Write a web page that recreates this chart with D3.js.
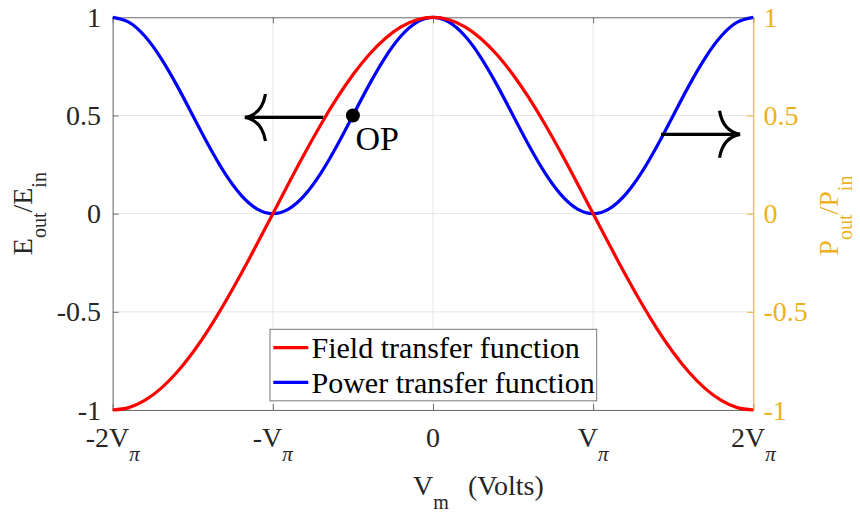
<!DOCTYPE html>
<html>
<head>
<meta charset="utf-8">
<script src="https://cdn.jsdelivr.net/npm/d3@7"></script>
<style>
  html, body { margin: 0; padding: 0; background: #fff; }
  svg { display: block; }
  text { font-family: "Liberation Serif", "Times New Roman", serif; }
</style>
</head>
<body>
<svg id="chart" width="860" height="512"></svg>
<script>
// ---- data (x in units of V_pi) ----
const vm = [-2.0,-1.9,-1.8,-1.7,-1.6,-1.5,-1.4,-1.3,-1.2,-1.1,-1.0,-0.9,-0.8,-0.7,-0.6,-0.5,-0.4,-0.3,-0.2,-0.1,
            0.0,0.1,0.2,0.3,0.4,0.5,0.6,0.7,0.8,0.9,1.0,1.1,1.2,1.3,1.4,1.5,1.6,1.7,1.8,1.9,2.0];
const fieldTF = [-1,-0.9877,-0.9511,-0.8910,-0.8090,-0.7071,-0.5878,-0.4540,-0.3090,-0.1564,0,
                 0.1564,0.3090,0.4540,0.5878,0.7071,0.8090,0.8910,0.9511,0.9877,1,
                 0.9877,0.9511,0.8910,0.8090,0.7071,0.5878,0.4540,0.3090,0.1564,0,
                 -0.1564,-0.3090,-0.4540,-0.5878,-0.7071,-0.8090,-0.8910,-0.9511,-0.9877,-1];
const powerTF = [1,0.9755,0.9045,0.7939,0.6545,0.5,0.3455,0.2061,0.0955,0.0245,0,
                 0.0245,0.0955,0.2061,0.3455,0.5,0.6545,0.7939,0.9045,0.9755,1,
                 0.9755,0.9045,0.7939,0.6545,0.5,0.3455,0.2061,0.0955,0.0245,0,
                 0.0245,0.0955,0.2061,0.3455,0.5,0.6545,0.7939,0.9045,0.9755,1];
const xTicks = [-2,-1,0,1,2];
const xTickMain = ["-2V","-V","0","V","2V"];
const xTickSub  = ["\u03c0","\u03c0","","\u03c0","\u03c0"];
const yTicks = [-1,-0.5,0,0.5,1];
const yTickLabels = ["-1","-0.5","0","0.5","1"];
const legendLabels = ["Field transfer function","Power transfer function"];
const opPoint = {x: -0.5, y: 0.5, label: "OP"};
const leftArrow = {x1: -0.685, x2: -1.174, y: 0.49};
const rightArrow = {x1: 1.424, x2: 1.917, y: 0.404};

// ---- layout ----
const L = 112.7, R = 753.3, T = 17.3, B = 410;
const RED = "#ff0000", BLUE = "#0000ff", ORANGE = "#EDB120", TXT = "#262626", AX = "#707070";
const svg = d3.select("#chart");
const x = d3.scaleLinear().domain([-2,2]).range([L,R]);
const y = d3.scaleLinear().domain([-1,1]).range([B,T]);
const yR = d3.scaleLinear().domain([-1,1]).range([B,T]);

// grid
const grid = svg.append("g");
grid.selectAll("line.gx").data(xTicks).join("line")
  .attr("x1", d => x(d)).attr("x2", d => x(d)).attr("y1", T).attr("y2", B)
  .attr("stroke", "#e6e6e6").attr("stroke-width", 1);
grid.selectAll("line.gy").data(yTicks).join("line")
  .attr("x1", L).attr("x2", R).attr("y1", d => y(d)).attr("y2", d => y(d))
  .attr("stroke", "#e6e6e6").attr("stroke-width", 1);

// axes
function styleAxis(g, color) {
  g.select(".domain").attr("stroke", color).attr("stroke-width", 1);
  g.selectAll(".tick line").attr("stroke", color).attr("stroke-width", 1);
}
const gxB = svg.append("g").attr("transform", `translate(0,${B})`)
  .call(d3.axisBottom(x).tickValues(xTicks).tickSizeInner(-6).tickSizeOuter(0).tickFormat(""));
styleAxis(gxB, AX);
const gxT = svg.append("g").attr("transform", `translate(0,${T})`)
  .call(d3.axisTop(x).tickValues(xTicks).tickSizeInner(-6).tickSizeOuter(0).tickFormat(""));
styleAxis(gxT, AX);
const gyL = svg.append("g").attr("transform", `translate(${L},0)`)
  .call(d3.axisLeft(y).tickValues(yTicks).tickSizeInner(-6).tickSizeOuter(0).tickFormat(""));
styleAxis(gyL, AX);
const gyR = svg.append("g").attr("transform", `translate(${R},0)`)
  .call(d3.axisRight(yR).tickValues(yTicks).tickSizeInner(-6).tickSizeOuter(0).tickFormat(""));
styleAxis(gyR, ORANGE);

// x tick labels
const xt = svg.append("g").selectAll("text").data(xTicks).join("text")
  .attr("x", d => x(d)).attr("y", 446.5).attr("text-anchor", "middle")
  .attr("font-size", 28).attr("fill", TXT);
xt.append("tspan").text((d,i) => xTickMain[i]);
xt.append("tspan").attr("dy", 14).attr("font-size", 21).attr("font-style", "italic")
  .text((d,i) => xTickSub[i]);

// y tick labels
svg.append("g").selectAll("text").data(yTicks).join("text")
  .attr("x", 101).attr("y", d => y(d) + 9.5).attr("text-anchor", "end")
  .attr("font-size", 28).attr("fill", TXT).text((d,i) => yTickLabels[i]);
svg.append("g").selectAll("text").data(yTicks).join("text")
  .attr("x", 763.5).attr("y", d => yR(d) + 9.5).attr("text-anchor", "start")
  .attr("font-size", 28).attr("fill", ORANGE).text((d,i) => yTickLabels[i]);

// axis titles
function subLabel(g, parts, color) {
  const t = g.append("text").attr("font-size", 28).attr("fill", color).attr("text-anchor", "middle");
  let down = false;
  parts.forEach(([s, sub]) => {
    const ts = t.append("tspan").text(s);
    if (sub && !down) { ts.attr("dy", 14).attr("font-size", 20); down = true; }
    else if (!sub && down) { ts.attr("dy", -14); down = false; }
    else if (sub) ts.attr("font-size", 20);
  });
  return t;
}
subLabel(svg.append("g").attr("transform", `translate(32,${(T+B)/2}) rotate(-90)`),
  [["E",0],["out",1],["/E",0],["in",1]], TXT);
subLabel(svg.append("g").attr("transform", `translate(838,${(T+B)/2 + 2}) rotate(-90)`),
  [["P",0],["out",1],["/P",0],["in",1]], ORANGE);
const xl = svg.append("text").attr("x", 413).attr("y", 495).attr("font-size", 28).attr("fill", TXT);
xl.append("tspan").text("V");
xl.append("tspan").attr("dy", 14).attr("font-size", 20).text("m");
xl.append("tspan").attr("x", 468).attr("dy", -14).text("(Volts)");

// curves
const line = d3.line().x(d => x(d[0])).y(d => y(d[1])).curve(d3.curveNatural);
svg.append("path").datum(vm.map((v,i) => [v, powerTF[i]]))
  .attr("d", line).attr("fill", "none").attr("stroke", BLUE).attr("stroke-width", 3.2);
svg.append("path").datum(vm.map((v,i) => [v, fieldTF[i]]))
  .attr("d", line).attr("fill", "none").attr("stroke", RED).attr("stroke-width", 3.2);

// arrows
function arrow(a, dir) {
  const x1 = x(a.x1), x2 = x(a.x2), yy = y(a.y);
  const g = svg.append("g").attr("fill", "none").attr("stroke", "#000").attr("stroke-width", 3.2);
  g.append("line").attr("x1", x1).attr("x2", x2).attr("y1", yy).attr("y2", yy);
  const ax = x2 - dir * 20.5, cx = x2 - dir * 17;
  g.append("path").attr("d",
    `M${ax},${yy-23.5} Q${cx},${yy-3} ${x2},${yy} Q${cx},${yy+3} ${ax},${yy+23.5}`);
}
arrow(leftArrow, -1);
arrow(rightArrow, 1);

// OP
svg.append("circle").attr("cx", x(opPoint.x)).attr("cy", y(opPoint.y)).attr("r", 7).attr("fill", "#000");
svg.append("text").attr("x", x(opPoint.x) + 2.5).attr("y", 150).attr("font-size", 34)
  .attr("fill", "#000").text(opPoint.label);

// legend
const lg = svg.append("g");
lg.append("rect").attr("x", 270).attr("y", 329.3).attr("width", 326.7).attr("height", 71.5)
  .attr("fill", "#fff").attr("stroke", "#777").attr("stroke-width", 1);
[RED, BLUE].forEach((c, i) => {
  const yy = 347.7 + i * 34.6;
  lg.append("line").attr("x1", 273.3).attr("x2", 308.3).attr("y1", yy).attr("y2", yy)
    .attr("stroke", c).attr("stroke-width", 3.2);
  lg.append("text").attr("x", 311.5).attr("y", 358.3 + i * 35).attr("font-size", 30)
    .attr("fill", "#000").text(legendLabels[i]);
});
</script>
</body>
</html>
